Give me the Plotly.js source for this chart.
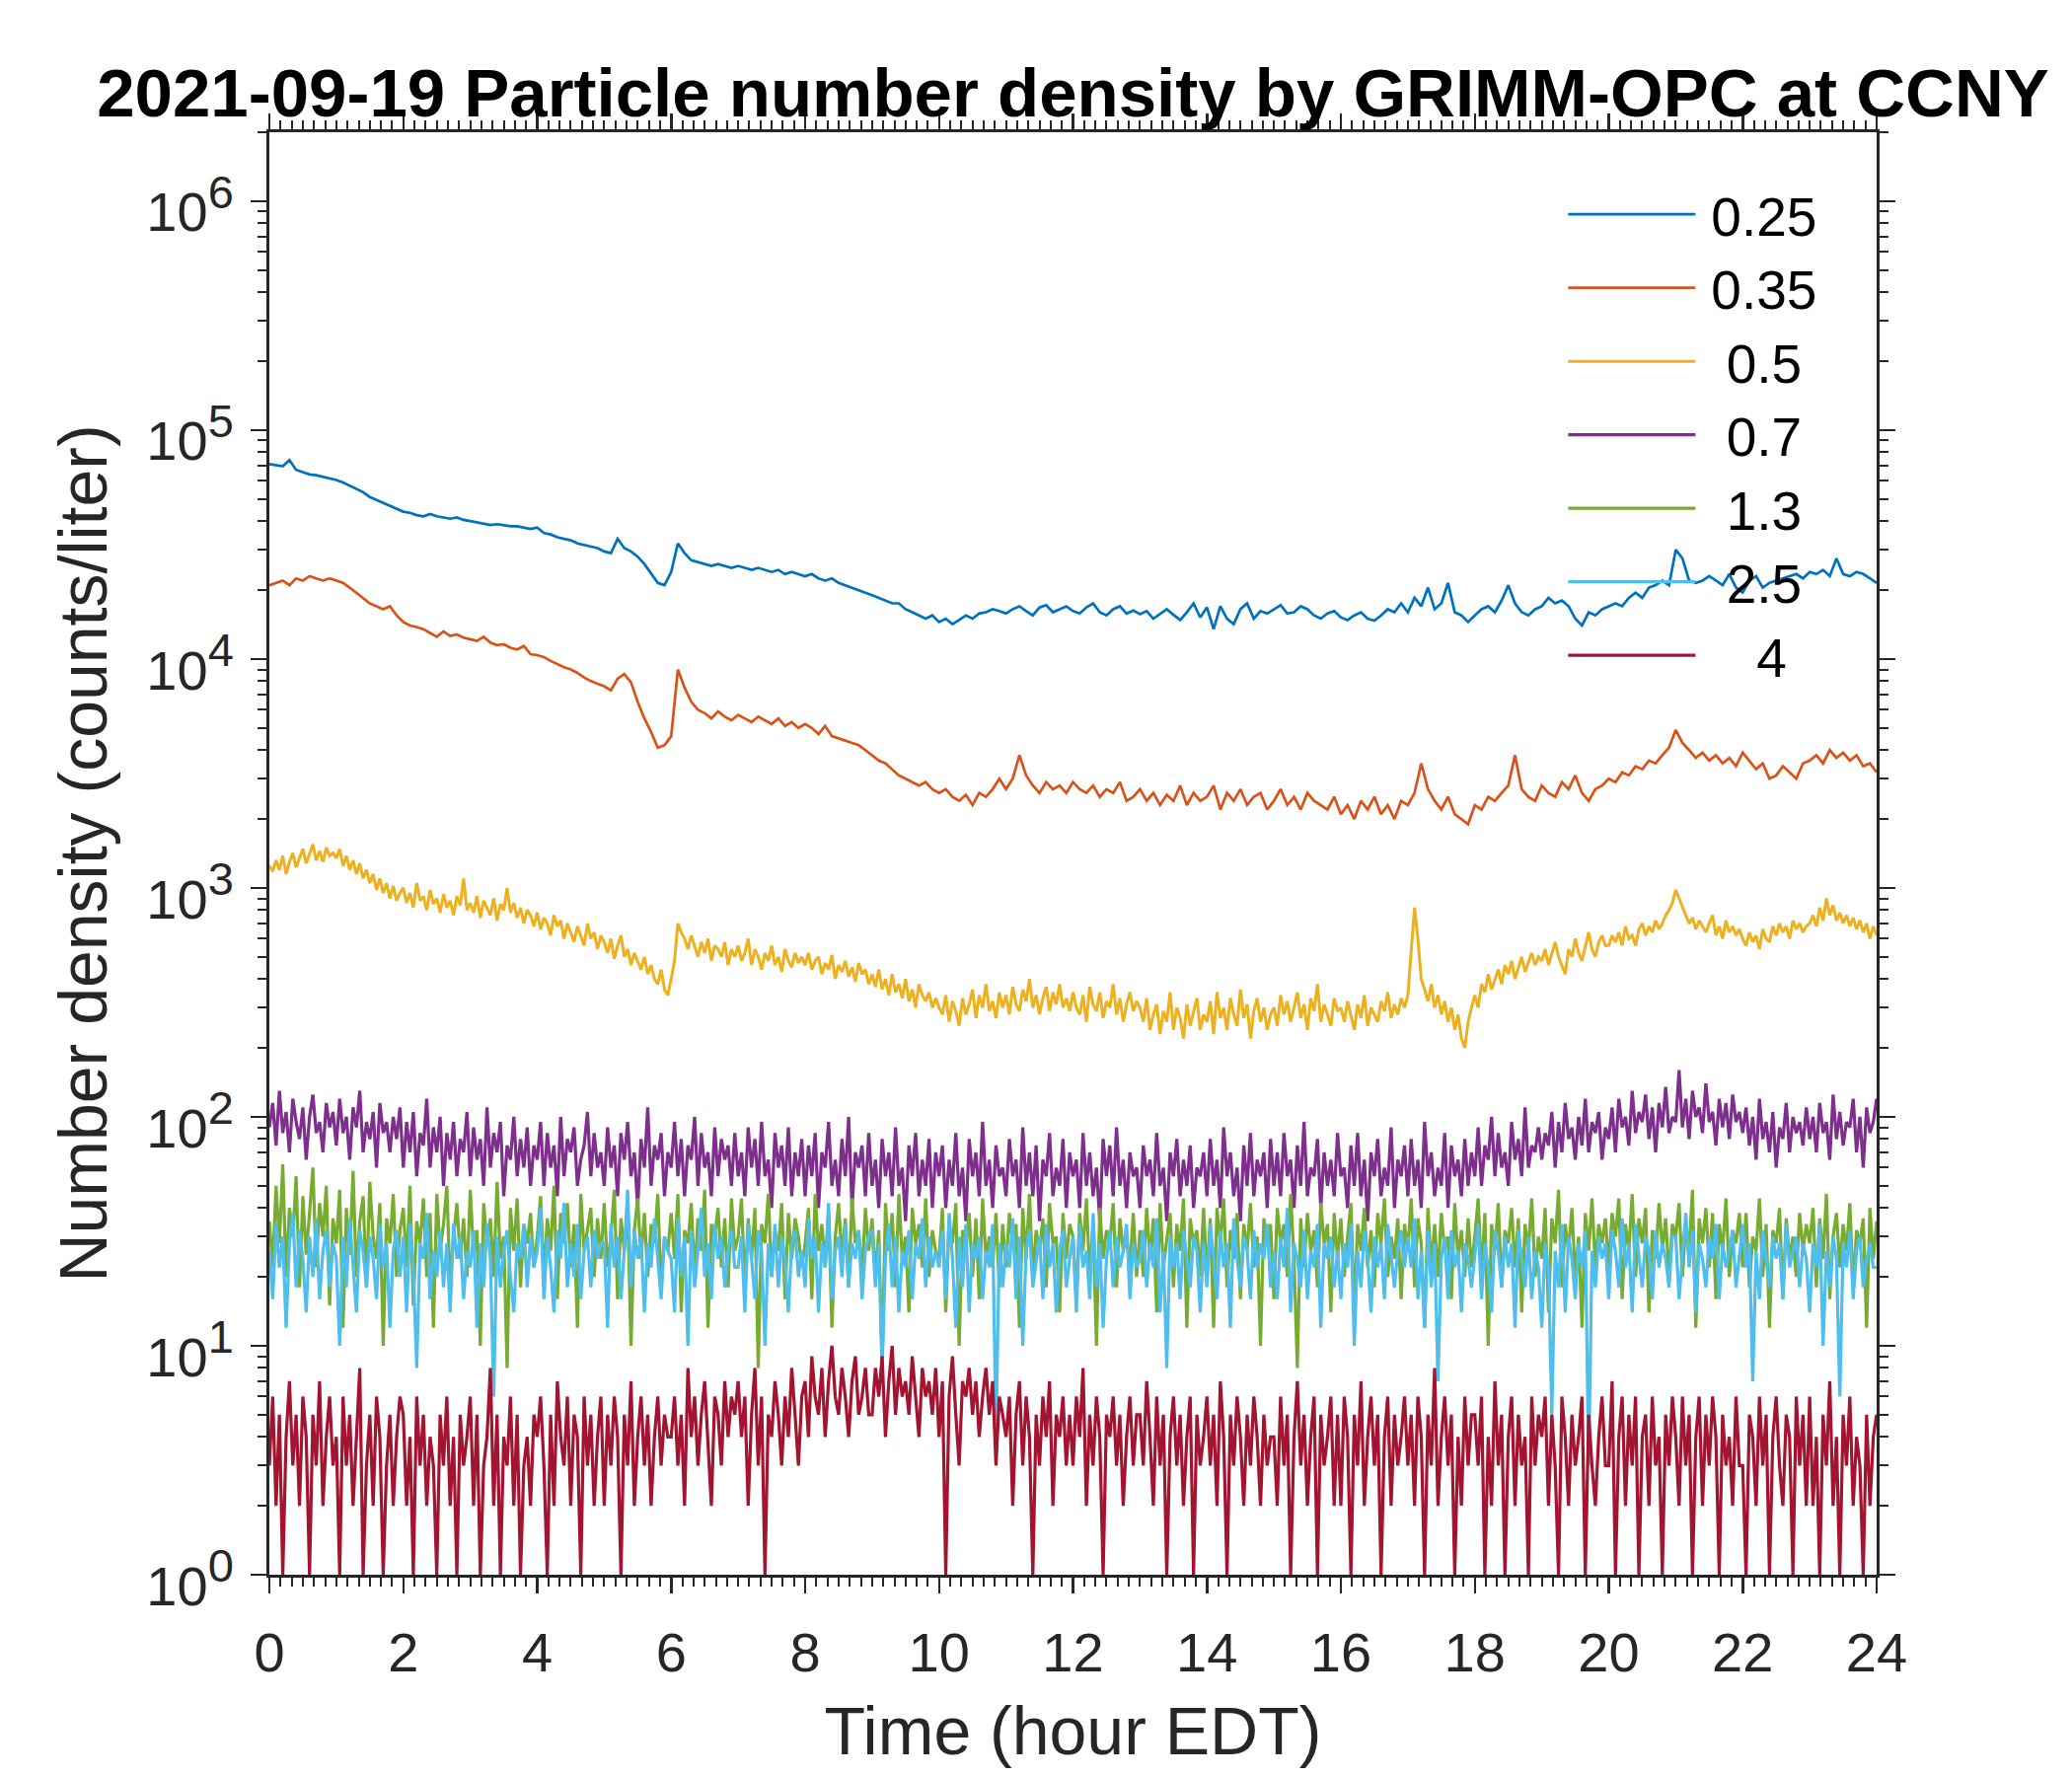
<!DOCTYPE html>
<html>
<head>
<meta charset="utf-8">
<script src="https://cdn.plot.ly/plotly-3.0.1.min.js"></script>
<style>
  html, body { margin: 0; padding: 0; background: #fff; }
  #chart { width: 2100px; height: 1800px; }
</style>
</head>
<body>
<div id="chart"></div>
<script>
// 0.25 and 0.35 um bins read every 0.1 h, the other bins every 0.05 h (0 .. 24 h EDT)
var coarseStep = 0.1;
var fineStep = 0.05;

// size bins (um) as shown in the legend
var binNames = ['\u20090.25', '\u20090.35', '\u2009\u00a00.5', '\u2009\u00a00.7', '\u2009\u00a01.3', '\u2009\u00a02.5', '\u2009\u00a0\u00a0\u00a04'];
var binColors = ['#0072BD', '#D95319', '#EDB120', '#7E2F8E', '#77AC30', '#4DBEEE', '#A2142F'];
// the sparser reading of the noisy bins is drawn a little heavier
var binWidths = [2.7, 2.7, 3, 3.2, 3.2, 3.2, 3.2];

var n025 = [
71000,70000,69500,74000,67000,65500,64000,63500,62500,61500,
60500,59000,57000,55000,53500,51000,49500,48000,46500,45000,
44000,43500,42500,42000,43000,42000,41500,41000,41500,40500,
40000,39500,39000,38500,38800,38500,38000,38000,37500,37000,
37500,35500,35000,34000,33500,33000,32000,31500,31000,30500,
29500,29000,33500,30500,29500,28000,26000,23500,21500,21000,
24000,32000,29000,27000,26500,26000,25500,26000,25500,25000,
25500,25000,24500,25000,24500,24000,24500,23500,24000,23500,
23000,23500,22500,22000,22500,21500,21000,20500,20000,19500,
19000,18500,18000,17500,17500,16500,16000,15500,15000,15500,
14500,15000,14200,14800,15500,15000,15800,16000,16500,16200,
15800,16500,17000,16200,15500,16800,17200,16000,16500,17000,
16200,15800,16800,17500,16000,15500,16500,17000,15800,16300,
15700,16200,15000,15800,16500,15600,14800,16000,17500,15200,
16800,13500,17000,15000,14200,16500,17500,15000,16200,15800,
16500,17200,15800,16000,17000,16500,15500,15000,15800,16200,
15200,14800,15500,16000,15000,14700,15500,16500,16000,17500,
16000,18500,17000,20500,16500,17500,21500,16000,15500,14500,
15500,16500,17000,16000,18000,21000,17500,16000,15500,16500,
17000,18500,17500,18000,17000,15000,14000,16000,15500,16500,
17000,17500,17000,18500,19500,18500,20500,21000,22000,21000,
30000,27500,22000,21500,22000,23000,22000,21000,23500,20500,
19500,22000,23000,20500,21500,22000,22500,23000,23500,22500,
24000,23500,24500,23000,27500,23500,23000,24000,23500,22500,
21500];

var n035 = [
21000,21500,22000,21000,22500,22000,23000,22500,22000,22500,
22000,21500,20500,19500,18500,17500,17000,16500,17000,15500,
14500,14000,13800,13500,13000,12500,13200,12600,12800,12400,
12200,12000,12500,11800,11500,11600,11200,11000,11400,10500,
10400,10200,9800,9500,9200,9000,8700,8300,8000,7800,
7600,7300,8200,8600,7900,6500,5500,4800,4100,4200,
4600,9000,7500,6500,6000,5800,5500,5900,5600,5400,
5700,5500,5300,5600,5400,5200,5500,5100,5300,5000,
5200,5000,4700,5100,4600,4500,4400,4300,4200,4000,
3800,3600,3500,3300,3100,3000,2900,2800,2900,2700,
2600,2700,2500,2400,2550,2300,2600,2500,2700,3000,
2700,3000,3800,3100,2800,2600,2900,2700,2800,2600,
2900,2700,2600,2800,2500,2700,2600,2900,2400,2500,
2700,2400,2600,2300,2550,2400,2800,2300,2600,2400,
2500,2800,2200,2600,2400,2700,2300,2500,2600,2200,
2400,2700,2300,2500,2200,2600,2400,2300,2200,2500,
2100,2300,2000,2400,2200,2500,2100,2300,2000,2400,
2300,2600,3500,2700,2400,2200,2500,2100,2000,1900,
2300,2200,2500,2400,2600,2800,3800,2700,2500,2400,
2800,2600,2500,2900,2700,3100,2600,2400,2700,2800,
3000,2900,3200,3100,3400,3300,3600,3500,3800,4100,
4900,4300,4000,3700,3900,3600,3800,3500,3700,3400,
3900,3600,3300,3500,3000,3100,3400,3200,3000,3500,
3600,3800,3500,4000,3700,3900,3600,3800,3400,3500,
3200];

var n05 = [
1250,1180,1320,1200,1380,1150,1300,1420,1230,1350,1480,1280,1400,1550,1320,1450,1300,1500,1380,1420,
1350,1480,1250,1380,1200,1320,1150,1280,1100,1200,1050,1150,980,1100,950,1050,900,1020,880,950,
1000,860,950,820,1050,880,920,800,980,850,900,780,940,820,880,760,920,840,1100,800,
860,780,920,740,880,820,760,900,720,850,800,1000,780,860,740,820,700,800,760,680,
780,660,740,700,620,760,680,720,600,700,640,580,680,620,560,700,600,640,540,620,
580,520,600,490,560,620,500,540,460,520,480,440,500,420,460,400,380,440,360,340,
400,480,700,640,600,540,620,560,500,580,520,600,480,560,540,500,580,460,540,500,
560,480,520,600,460,540,500,440,520,480,560,460,500,430,540,480,450,520,470,500,
460,520,440,480,500,420,470,440,510,400,460,430,480,410,450,390,470,420,440,380,
420,370,440,360,400,340,420,350,380,330,400,320,360,300,380,340,320,350,300,330,
300,280,340,260,320,290,250,330,280,310,360,270,340,300,380,290,320,270,350,300,
340,280,370,310,290,360,320,400,300,340,280,330,370,290,350,310,380,300,330,290,
350,300,280,340,260,370,310,290,350,270,320,300,380,280,330,260,310,350,290,320,
300,260,330,240,280,310,230,290,260,350,240,300,270,220,310,250,290,330,240,280,
260,320,230,350,270,300,240,330,280,250,360,270,310,220,290,330,260,300,240,280,
300,250,340,280,320,260,300,350,270,310,240,330,290,380,260,310,280,250,330,290,
300,260,320,280,240,310,270,340,250,300,280,260,320,290,350,270,310,280,330,300,
340,520,820,600,400,360,320,380,300,340,280,320,260,300,240,280,220,200,260,300,
340,300,380,350,420,360,400,440,380,460,420,480,400,450,500,430,470,520,460,500,
480,540,460,520,580,500,460,420,540,500,600,520,480,560,640,540,500,580,620,560,
560,620,580,640,560,680,600,620,560,660,700,620,680,640,720,660,700,760,800,860,
980,900,820,760,700,740,660,720,680,640,700,760,620,680,600,720,640,680,620,660,
600,560,640,580,620,540,660,600,580,680,620,700,640,680,600,720,660,700,640,680,
700,760,680,820,720,900,760,840,720,780,700,760,680,740,660,720,640,700,600,680,
620];

var n07 = [
90,115,75,130,85,105,70,120,95,80,110,65,100,125,85,95,70,115,90,105,
75,120,85,100,65,110,90,130,70,95,80,105,60,115,85,95,70,100,80,110,
60,95,70,105,55,85,75,120,60,90,70,100,50,85,65,95,55,80,70,105,
55,90,65,80,50,110,60,85,70,95,45,75,65,100,55,80,60,90,50,75,
65,95,50,85,60,75,45,100,55,80,70,90,50,65,75,105,55,85,60,70,
50,90,60,75,45,85,65,95,55,70,40,80,60,110,50,75,65,85,45,70,
60,95,55,80,45,75,65,100,50,85,60,70,45,90,55,80,65,75,50,85,
55,70,45,90,60,80,50,95,55,65,40,85,60,75,50,90,45,70,55,80,
45,75,55,85,40,70,60,95,50,65,45,80,55,100,40,70,60,75,45,85,
50,65,40,80,55,70,45,90,50,60,35,75,55,85,45,65,50,80,40,70,
55,75,40,65,50,85,45,60,35,80,55,70,45,95,50,65,40,75,55,60,
45,80,55,65,40,90,50,70,45,75,35,65,55,85,45,60,50,80,40,70,
55,65,40,85,50,70,45,60,35,80,55,75,45,90,50,65,40,70,55,60,
40,75,55,65,45,85,50,60,35,70,55,80,45,65,50,75,40,60,55,70,
45,80,50,65,40,90,55,70,45,60,35,75,50,85,45,65,55,70,40,80,
50,70,45,85,55,65,40,75,50,95,45,60,55,80,40,70,50,65,45,85,
55,60,40,75,50,85,45,65,35,70,55,80,45,60,50,90,40,65,55,75,
45,80,50,65,40,95,55,70,45,60,50,85,40,75,55,65,45,80,50,70,
55,90,50,75,65,100,55,85,60,70,50,95,65,80,55,110,60,75,70,90,
65,85,75,105,60,95,70,115,80,90,65,100,75,120,70,95,85,105,65,90,
80,110,70,120,90,100,75,130,85,105,95,125,80,110,70,115,90,135,85,100,
95,160,90,120,80,130,100,110,85,140,95,105,75,120,90,115,80,125,95,105,
85,110,75,100,65,120,80,95,70,105,60,90,80,115,70,100,85,95,75,110,
80,100,70,115,85,95,65,125,80,105,75,95,90,120,70,100,60,110,85,95,
120];

var n13 = [
35,22,50,28,62,20,40,30,55,18,45,25,38,60,22,42,30,50,15,36,
28,48,12,40,25,58,20,35,45,18,52,30,24,42,10,36,28,46,20,32,
40,22,50,15,35,28,44,20,38,12,46,26,34,50,18,30,42,24,36,20,
48,25,32,10,42,28,36,20,52,24,30,8,40,26,44,18,34,28,38,22,
30,45,20,36,26,50,16,38,28,42,22,34,12,46,26,32,40,20,36,24,
42,22,30,48,16,36,26,40,10,32,44,24,38,20,34,28,46,18,30,26,
38,24,46,14,32,28,42,20,36,26,48,12,34,30,40,22,36,18,44,26,
30,44,18,36,24,40,8,34,28,46,20,32,26,42,16,38,24,36,30,22,
28,40,16,46,26,34,22,38,12,30,42,24,36,18,44,28,32,20,40,26,
36,20,32,8,42,26,38,18,46,24,30,14,40,28,34,22,44,20,32,26,
24,40,14,34,28,42,10,32,26,38,20,36,16,44,24,30,22,38,18,34,
22,38,28,34,12,40,24,46,20,32,26,36,18,42,28,30,14,38,24,34,
30,16,38,26,44,20,34,10,40,24,32,28,42,18,36,26,30,22,38,20,
32,20,40,24,36,14,42,22,30,38,18,34,26,44,12,36,28,32,20,40,
20,36,12,40,28,44,18,32,24,38,16,34,26,42,22,30,10,36,28,34,
16,40,28,34,20,46,24,8,36,22,38,26,32,18,42,28,34,14,38,24,
36,20,30,42,14,34,26,40,22,32,18,38,28,44,20,30,24,36,16,34,
26,44,18,36,28,12,40,22,34,20,38,26,30,16,42,24,32,20,36,22,
30,44,20,38,10,34,26,42,18,32,28,40,22,36,14,34,26,44,20,30,
24,40,14,36,28,48,18,34,26,40,20,30,12,38,26,44,22,34,28,36,
22,38,30,44,16,34,26,46,20,36,28,40,14,32,24,42,26,36,20,34,
30,42,20,34,26,48,12,36,28,40,22,38,16,34,26,44,20,32,28,38,
22,38,18,30,26,44,20,34,12,32,28,40,16,36,24,30,20,38,26,34,
28,40,18,36,24,46,16,30,38,22,34,26,42,18,32,28,36,12,40,24,
35];

var n25 = [
26,16,34,22,30,12,28,38,18,32,24,14,30,20,36,16,26,32,18,28,
24,10,30,18,36,22,14,32,26,18,30,24,16,34,22,28,12,26,32,20,
30,14,34,22,8,28,24,38,16,26,20,32,18,28,14,34,24,30,16,26,
22,32,12,28,18,34,24,6,30,18,26,32,20,14,28,24,34,18,30,22,
26,40,16,30,22,14,32,24,42,18,28,20,34,16,26,30,18,32,24,28,
28,12,34,22,30,16,26,48,18,32,24,30,14,28,22,36,24,16,30,26,
24,14,36,20,30,10,32,18,26,40,20,28,16,34,24,30,18,26,32,22,
22,30,14,34,24,16,32,26,10,28,20,34,18,30,24,14,28,32,20,26,
18,36,24,30,14,28,22,42,16,26,30,20,34,18,28,24,32,16,26,30,
32,18,28,8,24,34,18,30,14,26,22,32,16,28,24,36,18,30,22,26,
22,32,16,38,24,12,30,18,34,14,28,24,30,16,26,22,34,4,28,18,
28,22,36,16,30,10,26,32,18,24,30,16,34,22,28,14,26,32,18,24,
30,14,34,22,26,16,38,18,28,12,24,32,18,30,22,26,34,16,28,22,
24,32,18,28,22,36,14,26,8,30,22,28,16,32,24,18,30,26,14,28,
18,34,24,16,32,22,28,12,36,24,18,30,26,16,32,22,28,24,34,18,
26,16,30,22,40,14,28,24,18,32,16,26,22,34,12,28,24,30,18,26,
16,28,22,34,10,26,18,32,24,14,30,22,28,16,34,24,18,26,32,22,
30,22,36,16,26,12,32,18,28,7,24,30,16,32,22,26,14,28,24,18,
24,34,16,28,22,14,32,26,18,30,22,28,12,32,24,18,30,16,26,22,
12,28,22,5,26,18,34,14,30,24,16,28,22,32,3,26,18,30,24,28,
16,32,26,18,36,22,28,14,34,24,18,30,26,16,32,22,28,24,18,30,
30,16,26,38,22,32,14,28,24,18,30,24,34,16,28,22,26,32,18,24,
34,22,28,7,26,16,32,24,18,30,24,28,16,34,22,26,30,18,28,24,
14,28,22,34,10,26,18,30,24,6,28,22,32,16,26,30,18,24,28,22,
22];

var n4 = [
3,6,2,5,1,4,7,3,5,2,6,4,1,5,3,7,2,4,6,3,
4,1,6,3,5,2,4,8,1,3,5,2,6,4,1,3,5,2,4,6,
5,2,4,1,6,3,5,2,4,3,1,5,3,6,2,4,1,5,3,4,
6,2,5,1,3,4,8,2,5,1,4,3,6,2,5,1,3,4,2,5,
4,6,3,1,5,2,7,4,3,6,2,5,4,1,6,3,5,2,4,6,
2,5,3,6,4,1,5,3,7,2,4,6,3,5,2,4,6,3,5,4,
4,6,3,5,2,8,4,6,3,5,7,4,2,6,5,3,7,4,6,5,
7,4,6,2,5,8,3,6,1,5,4,7,5,3,6,4,8,5,3,6,
7,4,9,6,5,8,4,7,10,6,5,8,6,4,7,9,5,6,8,5,
5,8,6,9,4,7,10,5,8,6,7,5,9,6,4,8,6,7,5,8,
4,7,1,6,9,5,3,7,6,8,5,7,4,6,8,5,7,3,6,5,
4,6,2,5,7,3,6,4,1,5,3,6,4,7,2,5,4,6,3,5,
3,6,4,8,2,5,3,6,4,1,5,4,6,3,5,2,4,6,3,5,
5,3,7,4,2,6,3,5,1,4,6,3,5,2,4,6,1,5,3,4,
6,3,5,2,7,4,1,5,3,6,4,2,5,3,6,4,2,5,3,4,
4,2,6,3,5,1,4,7,3,5,2,4,6,1,5,3,4,6,2,5,
2,6,4,1,5,3,7,2,4,6,3,5,1,4,6,2,5,3,4,6,
3,5,2,6,4,1,5,3,8,2,4,6,3,5,1,4,2,6,3,5,
5,3,6,1,4,2,7,3,5,1,4,6,2,5,3,4,1,6,3,5,
4,6,2,5,3,1,6,4,2,5,3,4,6,1,5,3,2,4,6,3,
3,7,1,4,6,2,5,3,6,1,4,5,2,6,3,4,1,5,3,6,
4,2,6,3,5,1,4,6,2,5,3,6,4,1,5,3,4,2,6,3,
3,1,5,4,2,6,3,5,1,4,6,3,2,5,4,1,6,3,5,2,
6,2,4,1,5,3,7,2,4,1,5,3,6,2,4,3,1,5,2,4,
5];

var series = [n025, n035, n05, n07, n13, n25, n4];
var steps = [coarseStep, coarseStep, fineStep, fineStep, fineStep, fineStep, fineStep];

function timeAxis(vals, dt){
	return vals.map(function(v, i){ return Math.round(i * dt * 100) / 100; });
}

var xTicks = [0,2,4,6,8,10,12,14,16,18,20,22,24];
var yTicks = [1,10,100,1000,10000,100000,1000000];
var yTickText = yTicks.map(function(v, i){
	return '10<sup><span style="font-size:47px">' + i + '</span></sup>';
});

var yMinor = [];
for(var d = 0; d < 7; d++){
	for(var k = 2; k <= 9; k++) yMinor.push(k * Math.pow(10, d));
}

var axisColor = '#262626';
var fontFam = '"Liberation Sans", Arial, Helvetica, sans-serif';

var data = [];
for(var i = 0; i < series.length; i++){
	data.push({
		type: 'scatter',
		mode: 'lines',
		x: timeAxis(series[i], steps[i]),
		y: series[i],
		name: binNames[i],
		line: {color: binColors[i], width: binWidths[i]}
	});
}

var layout = {
	width: 2100,
	height: 1800,
	paper_bgcolor: '#fff',
	plot_bgcolor: '#fff',
	margin: {l: 273, r: 198, t: 134, b: 204, pad: 0},
	font: {family: fontFam, color: axisColor},
	title: {
		text: '2021-09-19 Particle number density by GRIMM-OPC at CCNY',
		font: {family: fontFam, size: 69, color: '#000', weight: 'bold'},
		x: 0.5, xref: 'paper', xanchor: 'center',
		y: 0.948, yref: 'container', yanchor: 'middle'
	},
	xaxis: {
		range: [0, 24],
		tickvals: xTicks,
		ticks: 'outside', ticklen: 16, tickwidth: 2.5, tickcolor: axisColor,
		showline: true, linecolor: axisColor, linewidth: 3, mirror: 'ticks',
		showgrid: false, zeroline: false,
		tickfont: {size: 56, color: axisColor},
		ticklabelstandoff: 12,
		minor: {dtick: 1/6, ticks: 'outside', ticklen: 9, tickwidth: 2, tickcolor: axisColor, showgrid: false},
		title: {text: 'Time (hour EDT)', font: {size: 68, color: axisColor}, standoff: 26},
		automargin: false
	},
	yaxis: {
		type: 'log',
		range: [0, Math.log10(2e6)],
		tickvals: yTicks,
		ticktext: yTickText,
		ticks: 'outside', ticklen: 16, tickwidth: 2.5, tickcolor: axisColor,
		showline: true, linecolor: axisColor, linewidth: 3, mirror: 'ticks',
		showgrid: false, zeroline: false,
		tickfont: {size: 56, color: axisColor},
		ticklabelstandoff: 6,
		ticklabelshift: 11,
		minor: {tickvals: yMinor, ticks: 'outside', ticklen: 9, tickwidth: 2, tickcolor: axisColor, showgrid: false},
		title: {text: 'Number density (counts/liter)', font: {size: 68, color: axisColor}, standoff: 18},
		automargin: false
	},
	showlegend: true,
	legend: {
		x: 0.805, xanchor: 'left',
		y: 0.972, yanchor: 'top',
		bgcolor: 'rgba(0,0,0,0)',
		borderwidth: 0,
		font: {family: fontFam, size: 55, color: '#000'},
		itemwidth: 129,
		tracegroupgap: 0
	}
};

Plotly.newPlot('chart', data, layout, {displayModeBar: false, staticPlot: true});
</script>
</body>
</html>
